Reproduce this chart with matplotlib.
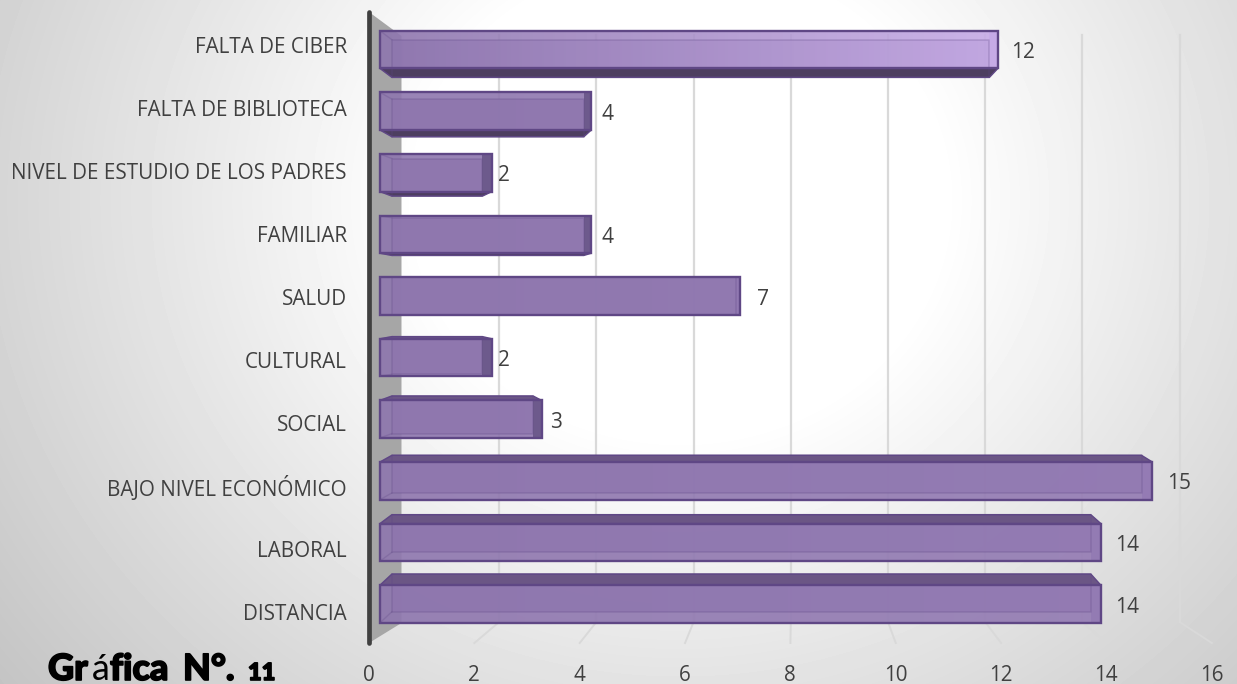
import matplotlib
matplotlib.use("Agg")
import matplotlib.pyplot as plt
import matplotlib.patheffects as pe
import numpy as np
from matplotlib.patches import Polygon

# datos
categorias = ["DISTANCIA", "LABORAL", "BAJO NIVEL ECONÓMICO", "SOCIAL", "CULTURAL",
              "SALUD", "FAMILIAR", "NIVEL DE ESTUDIO DE LOS PADRES",
              "FALTA DE BIBLIOTECA", "FALTA DE CIBER"]
valores = [14, 14, 15, 3, 2, 7, 4, 2, 4, 12]
ticks_x = [0, 2, 4, 6, 8, 10, 12, 14, 16]

W, H = 1237, 684
plt.rcParams['font.family'] = ['Open Sans', 'DejaVu Sans']
texto = "#404040"

fig = plt.figure(figsize=(W / 100, H / 100), dpi=100)

# fondo degradado
bg = fig.add_axes([0, 0, 1, 1], zorder=0)
yy, xx = np.mgrid[0:H, 0:W]
r = np.sqrt(((xx - 680) / 1000) ** 2 + ((yy - 200) / 900) ** 2)
bg.imshow(np.clip(1.12 - 0.40 * r ** 0.9, 0, 1), cmap="gray", vmin=0, vmax=1, aspect="auto")
bg.axis("off")

# ejes principales: x en valores, y en categorias
ax = fig.add_axes([0, 0, 1, 1], zorder=1)
ax.axis("off")
ax.patch.set_alpha(0)


def yp(p):  # pixel vertical a unidad de categoria
    return (604 - p) / 61.6


def pared(v):  # plano del fondo
    return 0.414 + 0.9586 * v


def piso(v):  # plano de las etiquetas
    return -0.237 + 1.039 * v


# pared gris
ax.add_patch(Polygon([(piso(0), yp(12)), (pared(0) - 0.01, yp(36)), (pared(0) - 0.01, yp(623)),
                      (piso(0), yp(643))], fc="#a6a6a6", ec="none", zorder=2))
ax.plot([piso(0), piso(0)], [yp(12), yp(643)], color="#404040", lw=3.4, zorder=3, solid_capstyle="round")

# rejilla
for t in ticks_x[1:]:
    ax.plot([pared(t), pared(t)], [yp(35), yp(622)], color="#d9d9d9", lw=1.6, zorder=2)
    ax.plot([pared(t), piso(t)], [yp(622), yp(643)], color="#d9d9d9", lw=1.4, zorder=2)

# barras 3D
alto = 18.8 / 61.6
borde = "#5f4785"
fr = np.array([0x8e, 0x76, 0xae]) / 255
cl = np.array([0xc6, 0xab, 0xe6]) / 255
for i, v in enumerate(valores):
    cy = 604 - 61.6 * i
    dy = (cy - 297) * 0.0365 / 61.6  # perspectiva
    fondo = (4.5 + abs(v - 7) * (1 if v < 7 else 0.8)) / 50.7
    x0, x1 = -0.02, v + fondo
    bx0, bx1 = 0.217, v
    f0, f1 = i - alto, i + alto
    b0, b1 = f0 + dy, f1 + dy
    # cara frontal con degradado
    luz = 1.0 if cy < 60 else 0.08
    t = np.linspace(0, v / 12, 256)[None, :, None] * luz
    img = np.clip((1 - t) * fr + t * cl, 0, 1)
    # caras
    lateral = "#6d5a8c" if v < 7 else img[0, -1]
    ax.add_patch(Polygon([(bx0, b0), (bx1, b0), (bx1, b1), (bx0, b1)], fc="#8a72aa", ec="none", alpha=0.85, zorder=4))
    if dy < 0:
        ax.add_patch(Polygon([(x0, f0), (x1, f0), (bx1, b0), (bx0, b0)], fc="#4d3e60", ec=borde, lw=1, zorder=4.2))
    else:
        ax.add_patch(Polygon([(x0, f1), (x1, f1), (bx1, b1), (bx0, b1)], fc="#6b5685", ec=borde, lw=1, zorder=4.2))
    alfa = np.full(img.shape[:2] + (1,), 0.9)
    ax.imshow(np.concatenate([img, alfa], axis=2), extent=(x0, bx1, f0, f1),
              aspect="auto", zorder=4.5)
    ax.add_patch(Polygon([(x1, f0), (x1, f1), (bx1, f1), (bx1, f0)], fc=lateral, ec="none", zorder=4.6))
    ax.add_patch(Polygon([(x0, f0), (x1, f0), (x1, f1), (x0, f1)], fc="none", ec=borde, lw=1.7, zorder=5))
    # aristas interiores
    ax.plot([bx0, bx1, bx1, bx0, bx0], [b0, b0, b1, b1, b0], color=borde, lw=1.2, alpha=0.25, zorder=5)
    ax.plot([x0, bx0], [f0, b0], color=borde, lw=1, alpha=0.25, zorder=5)
    ax.plot([x0, bx0], [f1, b1], color=borde, lw=1, alpha=0.25, zorder=5)
    ax.text(0.375 + 1.024 * v, i - 0.05, str(v), ha="center", va="center",
            fontsize=15, color=texto, zorder=6)
ax.set_xlim(-381 / 50.7, (W - 381) / 50.7)
ax.set_ylim((604 - H) / 61.6, 604 / 61.6)

# ejes con etiquetas reales
lab = fig.add_axes([369 / W, (H - 651) / H, 16 * 52.67 / W, (651 - 14) / H], zorder=2)
lab.patch.set_alpha(0)
lab.set_xlim(0, 16)
lab.set_ylim((612 - 651) / 63, (612 - 14) / 63)
lab.set_xticks(ticks_x)
lab.set_yticks(range(len(categorias)))
lab.set_yticklabels(categorias)
lab.tick_params(axis="both", length=0, labelsize=14.9, labelcolor=texto)
lab.tick_params(axis="x", pad=10)
lab.tick_params(axis="y", pad=16)
for s in lab.spines.values():
    s.set_visible(False)

# titulo, con la a acentuada en otra fuente
partes = [("Gr", 48, 26, "black"), ("á", 92, 26, "normal"), ("fica", 110, 26, "black"),
          ("N°.", 183, 26, "black"), ("11", 248, 17, "black")]
for s, px, tam, peso in partes:
    tx = fig.text(px / W, 1 - 680 / H, s, fontsize=tam, fontweight=peso, color="black",
                  family=["Lato", "DejaVu Sans"], ha="left", va="baseline", zorder=7)
    if peso == "black":
        tx.set_path_effects([pe.withStroke(linewidth=1.2, foreground="black")])

fig.savefig("out.png", dpi=100)
